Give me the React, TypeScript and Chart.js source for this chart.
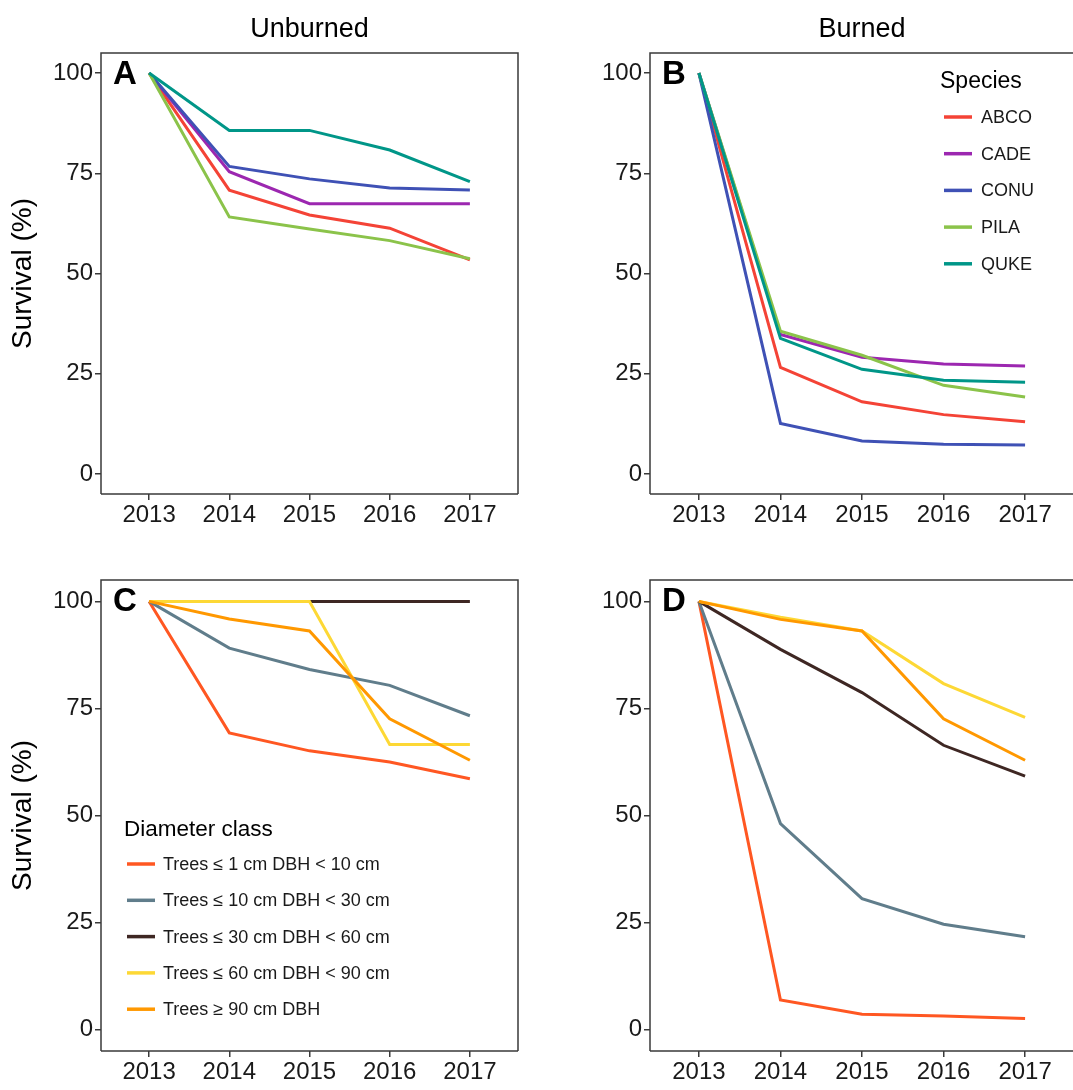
import { useEffect, useRef } from "react";
import { Chart, registerables } from "chart.js";

Chart.register(...registerables);

const FONT = "'Liberation Sans', Arial, Helvetica, sans-serif";
Chart.defaults.font.family = FONT;

const years = [2013, 2014, 2015, 2016, 2017];
const survivalTicks = [0, 25, 50, 75, 100];

// species series (A, B)
const species = ["ABCO", "CADE", "CONU", "PILA", "QUKE"];
const speciesColors = ["#F44336", "#9C27B0", "#3F51B5", "#8BC34A", "#009688"];

const unburnedABCO = [100, 70.8, 64.6, 61.3, 53.4];
const unburnedCADE = [100, 75.4, 67.4, 67.4, 67.4];
const unburnedCONU = [100, 76.7, 73.6, 71.3, 70.8];
const unburnedPILA = [100, 64.1, 61.1, 58.2, 53.7];
const unburnedQUKE = [100, 85.7, 85.7, 80.8, 72.9];

const burnedABCO = [100, 26.6, 18.0, 14.8, 13.0];
const burnedCADE = [100, 34.8, 29.1, 27.4, 26.9];
const burnedCONU = [100, 12.6, 8.2, 7.4, 7.2];
const burnedPILA = [100, 35.6, 29.6, 22.1, 19.2];
const burnedQUKE = [100, 33.8, 26.1, 23.4, 22.9];

// diameter class series (C, D)
const diameterClasses = [
  "Trees \u2264 1 cm DBH < 10 cm",
  "Trees \u2264 10 cm DBH < 30 cm",
  "Trees \u2264 30 cm DBH < 60 cm",
  "Trees \u2264 60 cm DBH < 90 cm",
  "Trees \u2265 90 cm DBH",
];
const diameterColors = ["#FF5722", "#607D8B", "#3E2723", "#FDD835", "#FF9800"];

const unburnedD1 = [100, 69.3, 65.1, 62.5, 58.6];
const unburnedD10 = [100, 89.1, 84.1, 80.4, 73.3];
const unburnedD30 = [100, 100, 100, 100, 100];
const unburnedD60 = [100, 100, 100, 66.6, 66.6];
const unburnedD90 = [100, 95.9, 93.1, 72.6, 62.9];

const burnedD1 = [100, 6.9, 3.6, 3.2, 2.6];
const burnedD10 = [100, 48.1, 30.6, 24.6, 21.7];
const burnedD30 = [100, 88.8, 78.7, 66.4, 59.2];
const burnedD60 = [100, 96.3, 93.1, 80.8, 72.9];
const burnedD90 = [100, 95.8, 93.1, 72.6, 62.9];

type LegendOpts = {
  title: string;
  titleSize: number;
  titleX: number;
  titleY: number;
  lineX: number;
  labelX: number;
  firstY: number;
  step: number;
};

type DecorOpts = {
  letter: string;
  heading?: string;
  headingY?: number;
  rightBorder?: boolean;
  legend?: LegendOpts;
};

const decorPlugin = {
  id: "decor",
  beforeDatasetsDraw(chart: any, _args: any, opts: DecorOpts) {
    const { ctx, chartArea: a } = chart;
    ctx.save();
    ctx.strokeStyle = "#3a3a3a";
    ctx.lineWidth = 1.5;
    ctx.beginPath();
    ctx.moveTo(a.left, a.bottom);
    ctx.lineTo(a.left, a.top);
    ctx.lineTo(a.right, a.top);
    if (opts.rightBorder !== false) ctx.lineTo(a.right, a.bottom);
    ctx.moveTo(a.left, a.bottom);
    ctx.lineTo(a.right, a.bottom);
    ctx.stroke();
    ctx.restore();
  },
  afterDraw(chart: any, _args: any, opts: DecorOpts) {
    const { ctx, chartArea: a } = chart;
    ctx.save();
    ctx.fillStyle = "#000";
    ctx.textBaseline = "middle";
    ctx.textAlign = "left";
    ctx.font = `bold 33px ${FONT}`;
    ctx.fillText(opts.letter, a.left + 12, a.top + 22);

    if (opts.heading) {
      ctx.font = `27px ${FONT}`;
      ctx.textAlign = "center";
      ctx.fillText(opts.heading, (a.left + a.right) / 2, opts.headingY);
    }

    const lg = opts.legend;
    if (lg) {
      ctx.textAlign = "left";
      ctx.font = `${lg.titleSize}px ${FONT}`;
      ctx.fillStyle = "#000";
      ctx.fillText(lg.title, a.left + lg.titleX, a.top + lg.titleY);
      ctx.font = `18px ${FONT}`;
      chart.data.datasets.forEach((ds: any, i: number) => {
        const y = a.top + lg.firstY + lg.step * i;
        ctx.strokeStyle = ds.borderColor;
        ctx.lineWidth = 3.5;
        ctx.beginPath();
        ctx.moveTo(a.left + lg.lineX, y);
        ctx.lineTo(a.left + lg.lineX + 28, y);
        ctx.stroke();
        ctx.fillStyle = "#1a1a1a";
        ctx.fillText(ds.label, a.left + lg.labelX, y + 1);
      });
    }
    ctx.restore();
  },
};

type PanelProps = {
  left: number;
  top: number;
  width: number;
  height: number;
  padTop: number;
  padRight: number;
  yAxisWidth: number;
  xAxisHeight: number;
  labels: string[];
  colors: string[];
  series: number[][];
  showYTitle: boolean;
  decor: DecorOpts;
};

function Panel(p: PanelProps) {
  const ref = useRef<HTMLCanvasElement>(null);

  useEffect(() => {
    if (!ref.current) return;
    const chart = new Chart(ref.current, {
      type: "line",
      data: {
        datasets: p.series.map((vals, i) => ({
          label: p.labels[i],
          data: years.map((yr, j) => ({ x: yr, y: vals[j] })),
          borderColor: p.colors[i],
          backgroundColor: p.colors[i],
          borderWidth: 3,
          pointRadius: 0,
          tension: 0,
          fill: false,
          order: -i,
        })),
      },
      options: {
        responsive: false,
        animation: false,
        events: [],
        layout: { padding: { top: p.padTop, right: p.padRight, left: 0, bottom: 0 } },
        plugins: {
          legend: { display: false },
          tooltip: { enabled: false },
          decor: p.decor,
        } as any,
        scales: {
          x: {
            type: "linear",
            min: 2012.4,
            max: 2017.6,
            afterBuildTicks: (s: any) => {
              s.ticks = years.map((v) => ({ value: v }));
            },
            afterFit: (s: any) => {
              s.height = p.xAxisHeight;
            },
            border: { display: false },
            grid: {
              drawOnChartArea: false,
              drawTicks: true,
              tickLength: 6,
              color: "#3a3a3a",
              lineWidth: 1.5,
            },
            ticks: {
              padding: 1,
              color: "#1a1a1a",
              font: { size: 24 },
              maxRotation: 0,
              autoSkip: false,
              callback: (v: any) => String(v),
            },
          },
          y: {
            type: "linear",
            min: -5,
            max: 105,
            afterBuildTicks: (s: any) => {
              s.ticks = survivalTicks.map((v) => ({ value: v }));
            },
            afterFit: (s: any) => {
              s.width = p.yAxisWidth;
            },
            border: { display: false },
            grid: {
              drawOnChartArea: false,
              drawTicks: true,
              tickLength: 6,
              color: "#3a3a3a",
              lineWidth: 1.5,
            },
            ticks: {
              padding: 2,
              color: "#1a1a1a",
              font: { size: 24 },
              callback: (v: any) => String(v),
            },
            title: {
              display: p.showYTitle,
              text: "Survival (%)",
              color: "#000",
              font: { size: 28 },
              padding: { top: 6, bottom: 0 },
            },
          },
        },
      },
      plugins: [decorPlugin as any],
    });
    return () => {
      chart.destroy();
    };
  }, []);

  return (
    <canvas
      ref={ref}
      width={p.width}
      height={p.height}
      style={{ position: "absolute", left: p.left, top: p.top, width: p.width, height: p.height }}
    />
  );
}

export default function App() {
  return (
    <div
      style={{
        position: "absolute",
        left: 0,
        top: 0,
        width: 1073,
        height: 1090,
        overflow: "hidden",
        background: "#fff",
      }}
    >
      <Panel
        left={0}
        top={0}
        width={536}
        height={530}
        padTop={53}
        padRight={18}
        yAxisWidth={101}
        xAxisHeight={36}
        labels={species}
        colors={speciesColors}
        series={[unburnedABCO, unburnedCADE, unburnedCONU, unburnedPILA, unburnedQUKE]}
        showYTitle={true}
        decor={{ letter: "A", heading: "Unburned", headingY: 30 }}
      />
      <Panel
        left={536}
        top={0}
        width={546}
        height={530}
        padTop={53}
        padRight={8}
        yAxisWidth={114}
        xAxisHeight={36}
        labels={species}
        colors={speciesColors}
        series={[burnedABCO, burnedCADE, burnedCONU, burnedPILA, burnedQUKE]}
        showYTitle={false}
        decor={{
          letter: "B",
          heading: "Burned",
          headingY: 30,
          legend: {
            title: "Species",
            titleSize: 23,
            titleX: 290,
            titleY: 29,
            lineX: 294,
            labelX: 331,
            firstY: 64,
            step: 36.7,
          },
        }}
      />
      <Panel
        left={0}
        top={530}
        width={536}
        height={560}
        padTop={50}
        padRight={18}
        yAxisWidth={101}
        xAxisHeight={39}
        labels={diameterClasses}
        colors={diameterColors}
        series={[unburnedD1, unburnedD10, unburnedD30, unburnedD60, unburnedD90]}
        showYTitle={true}
        decor={{
          letter: "C",
          legend: {
            title: "Diameter class",
            titleSize: 22.5,
            titleX: 23,
            titleY: 250,
            lineX: 26,
            labelX: 62,
            firstY: 284,
            step: 36.3,
          },
        }}
      />
      <Panel
        left={536}
        top={530}
        width={546}
        height={560}
        padTop={50}
        padRight={8}
        yAxisWidth={114}
        xAxisHeight={39}
        labels={diameterClasses}
        colors={diameterColors}
        series={[burnedD1, burnedD10, burnedD30, burnedD60, burnedD90]}
        showYTitle={false}
        decor={{ letter: "D" }}
      />
    </div>
  );
}
